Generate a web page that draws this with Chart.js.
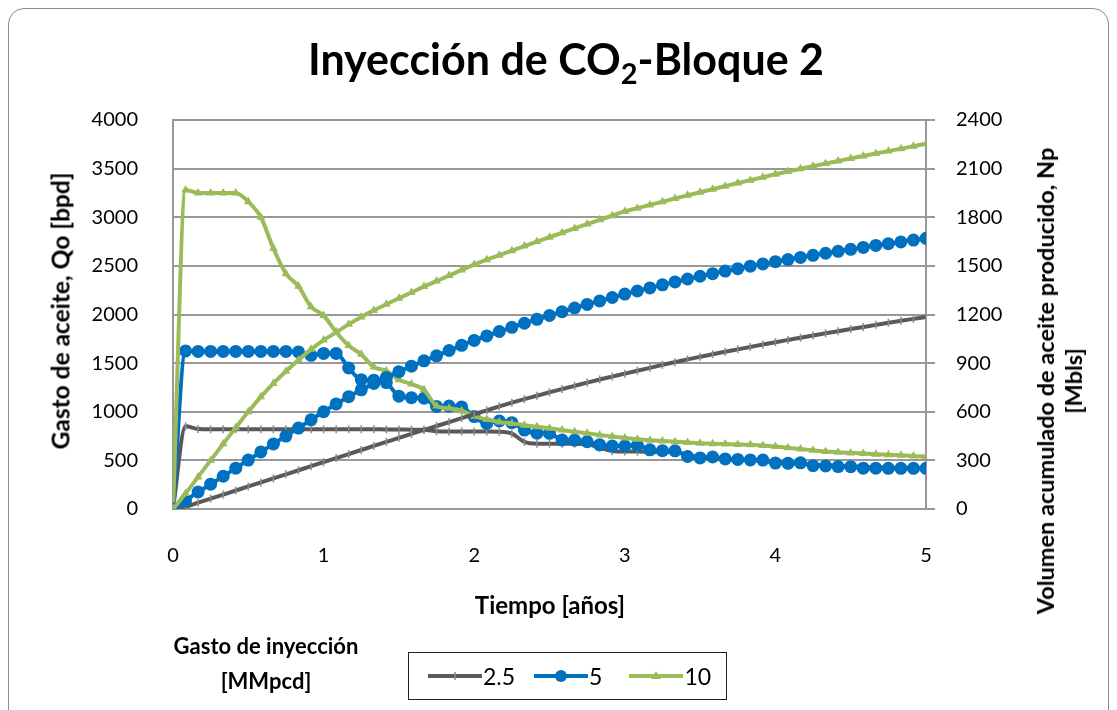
<!DOCTYPE html>
<html>
<head>
<meta charset="utf-8">
<script src="https://cdn.jsdelivr.net/npm/chart.js"></script>
<style>
body { margin: 0; background: #fff; font-family: Lato, "Noto Sans", sans-serif; }
#wrap { position: relative; width: 1117px; height: 710px; overflow: hidden; background: #fff; }
#frame { position: absolute; left: 8px; top: 8px; width: 1101px; height: 740px; border: 1.5px solid #8c8c8c; border-radius: 16px; box-sizing: border-box; }
#c { position: absolute; left: 0; top: 0; }
.t { position: absolute; font-weight: bold; color: #000; white-space: nowrap; text-align: center; }
#title { left: 566px; top: 37px; font-size: 43px; line-height: 44px; transform: translateX(-50%); }
#title sub { font-size: 29px; vertical-align: -9px; line-height: 0; }
#ytl { left: 60px; top: 311px; font-size: 24.5px; transform: translate(-50%, -50%) rotate(-90deg); }
#ytr { left: 1059px; top: 381px; font-size: 23.5px; line-height: 28px; transform: translate(-50%, -50%) rotate(-90deg); }
#xt { left: 550px; top: 604px; font-size: 24px; transform: translate(-50%, -50%); }
#lt { left: 266px; top: 663px; font-size: 22px; line-height: 35px; transform: translate(-50%, -50%); }
#legend { position: absolute; left: 408px; top: 652px; width: 319px; height: 48px; border: 1.5px solid #222; box-sizing: border-box; display: flex; align-items: center; padding-left: 19px; font-size: 23px; }
#legend .it { display: flex; align-items: center; margin-right: 19px; }
#legend .it:nth-child(2) { margin-right: 27px; }
#legend svg { margin-right: 1px; }
</style>
</head>
<body>
<div id="wrap">
  <div id="frame"></div>
  <canvas id="c" width="1117" height="710"></canvas>
  <div class="t" id="title">Inyección de CO<sub>2</sub>-Bloque 2</div>
  <div class="t" id="ytl">Gasto de aceite, Qo [bpd]</div>
  <div class="t" id="ytr">Volumen acumulado de aceite producido, Np<br>[Mbls]</div>
  <div class="t" id="xt">Tiempo [años]</div>
  <div class="t" id="lt">Gasto de inyección<br>[MMpcd]</div>
  <div id="legend"></div>
</div>
<script>
// monthly report steps, 0..60 months -> years
const tiempo = Array.from({ length: 61 }, (_, i) => i / 12);

const nombres = ["2.5", "5", "10"];

// gasto de aceite Qo [bpd]
const qo25 = [0, 850, 822, 820, 820, 820, 820, 820, 820, 820, 820, 820, 820, 820, 820, 820, 820, 818, 818, 816, 815,
  800, 798, 798, 798, 797, 795, 775, 690, 672, 672, 672, 672, 668, 630, 595, 590, 590, 588, 586, 584,
  560, 528, 520, 512, 505, 500, 495, 480, 470, 465, 455, 450, 445, 440, 432, 428, 425, 422, 420, 418];
const qo5 = [0, 1625, 1620, 1620, 1620, 1620, 1620, 1620, 1620, 1620, 1615, 1580, 1600, 1600, 1450, 1330, 1325, 1300, 1160, 1145, 1140,
  1055, 1058, 1050, 950, 880, 905, 888, 812, 780, 778, 710, 708, 692, 660, 648, 648, 655, 608, 600, 598,
  540, 525, 535, 515, 510, 505, 503, 472, 470, 475, 445, 442, 436, 435, 420, 420, 418, 418, 418, 418];
const qo10 = [0, 3280, 3250, 3250, 3250, 3250, 3160, 3000, 2680, 2420, 2290, 2080, 1990, 1820, 1680, 1590, 1460, 1420, 1330, 1285, 1225,
  1060, 1035, 1010, 955, 920, 895, 880, 862, 846, 830, 812, 795, 778, 762, 745, 730, 718, 708, 700, 692,
  684, 676, 672, 668, 664, 660, 652, 642, 630, 616, 604, 592, 584, 577, 570, 564, 558, 552, 546, 540];

// volumen acumulado Np [Mbls]
const np25 = [0, 14, 39, 64, 89, 114, 139, 164, 189, 214, 239, 264, 289, 314, 339, 364, 389, 414, 439, 463, 488,
  512, 536, 561, 585, 609, 633, 656, 678, 699, 720, 740, 760, 780, 799, 817, 835, 853, 871, 889, 906,
  923, 939, 955, 970, 985, 1000, 1015, 1029, 1043, 1057, 1071, 1084, 1097, 1110, 1123, 1136, 1149, 1161, 1173, 1185];
const np5 = [0, 52, 105, 153, 202, 252, 302, 352, 401, 450, 499, 550, 600, 648, 693, 735, 775, 812, 847, 881, 914,
  945, 978, 1010, 1040, 1068, 1095, 1121, 1146, 1170, 1194, 1217, 1240, 1262, 1284, 1305, 1326, 1345, 1364, 1383, 1401,
  1419, 1436, 1452, 1468, 1483, 1498, 1512, 1526, 1539, 1552, 1565, 1578, 1590, 1602, 1614, 1626, 1637, 1648, 1659, 1670];
const np10 = [0, 95, 198, 300, 402, 502, 600, 692, 775, 850, 920, 985, 1042, 1090, 1140, 1185, 1225, 1263, 1300, 1336, 1372,
  1406, 1440, 1475, 1508, 1538, 1566, 1594, 1622, 1650, 1677, 1704, 1731, 1758, 1784, 1810, 1836, 1856, 1876, 1896, 1916,
  1935, 1954, 1973, 1992, 2011, 2029, 2047, 2065, 2082, 2099, 2115, 2131, 2147, 2163, 2178, 2193, 2208, 2223, 2238, 2254];

const ticksIzq = [0, 500, 1000, 1500, 2000, 2500, 3000, 3500, 4000];
const ticksDer = [0, 300, 600, 900, 1200, 1500, 1800, 2100, 2400];

const COLORS = ["#595959", "#0070C0", "#9BBB59"];
const GRID = "#989898";

function pts(vals) { return vals.map((v, i) => ({ x: tiempo[i], y: v })); }

function serie(idx, vals, axis, order) {
  const base = {
    label: nombres[idx],
    data: pts(vals),
    yAxisID: axis,
    order: order,
    borderColor: COLORS[idx],
    backgroundColor: COLORS[idx],
    borderWidth: 4,
    cubicInterpolationMode: "monotone",
    pointHoverRadius: 0
  };
  if (idx === 0) Object.assign(base, { pointStyle: "line", pointRotation: 90, pointRadius: 4, pointBorderWidth: 1.5, pointBorderColor: "#8a8a8a" });
  if (idx === 1) Object.assign(base, { pointStyle: "circle", pointRadius: 6.5, pointBorderWidth: 0 });
  if (idx === 2) Object.assign(base, { pointStyle: "triangle", pointRadius: 5, pointBorderWidth: 0 });
  return base;
}

const datasets = [
  serie(0, qo25, "y", 6),
  serie(1, qo5, "y", 5),
  serie(2, qo10, "y", 4),
  serie(0, np25, "y2", 3),
  serie(1, np5, "y2", 2),
  serie(2, np10, "y2", 1)
];

const tickFont = { family: "Lato", size: 20 };
const plain = v => String(v);

new Chart(document.getElementById("c"), {
  type: "line",
  data: { datasets },
  options: {
    responsive: false,
    animation: false,
    devicePixelRatio: 1,
    layout: { padding: { top: 120, left: 0, right: 0, bottom: 0 } },
    plugins: { legend: { display: false }, tooltip: { enabled: false }, title: { display: false } },
    scales: {
      x: {
        type: "linear", min: 0, max: 5,
        ticks: { stepSize: 1, padding: 27, color: "#000", font: tickFont, callback: plain },
        grid: { display: false },
        border: { display: false },
        afterFit: s => { s.height = 201; }
      },
      y: {
        position: "left", min: 0, max: 4000,
        afterBuildTicks: s => { s.ticks = ticksIzq.map(v => ({ value: v })); },
        ticks: { padding: 27, color: "#000", font: tickFont, callback: plain },
        grid: { display: false },
        border: { display: true, color: GRID, width: 2 },
        afterFit: s => { s.width = 173; }
      },
      y2: {
        position: "right", min: 0, max: 2400,
        afterBuildTicks: s => { s.ticks = ticksDer.map(v => ({ value: v })); },
        ticks: { padding: 21, color: "#000", font: tickFont, callback: plain },
        grid: { color: GRID, lineWidth: 2, tickLength: 9 },
        border: { display: true, color: GRID, width: 2 },
        afterFit: s => { s.width = 191; }
      }
    }
  }
});

// legend: line sample with marker, like the spreadsheet one
function muestra(idx) {
  const c = COLORS[idx];
  let mk = "";
  if (idx === 0) mk = `<line x1="27" y1="3" x2="27" y2="11" stroke="#8a8a8a" stroke-width="1.5"/>`;
  if (idx === 1) mk = `<circle cx="27" cy="7" r="6" fill="${c}"/>`;
  if (idx === 2) mk = `<polygon points="27,2 32,10 22,10" fill="${c}"/>`;
  return `<svg width="54" height="14"><line x1="0" y1="7" x2="54" y2="7" stroke="${c}" stroke-width="4"/>${mk}</svg>`;
}
document.getElementById("legend").innerHTML = nombres
  .map((n, i) => `<div class="it">${muestra(i)}<span>${n}</span></div>`).join("");
</script>
</body>
</html>
